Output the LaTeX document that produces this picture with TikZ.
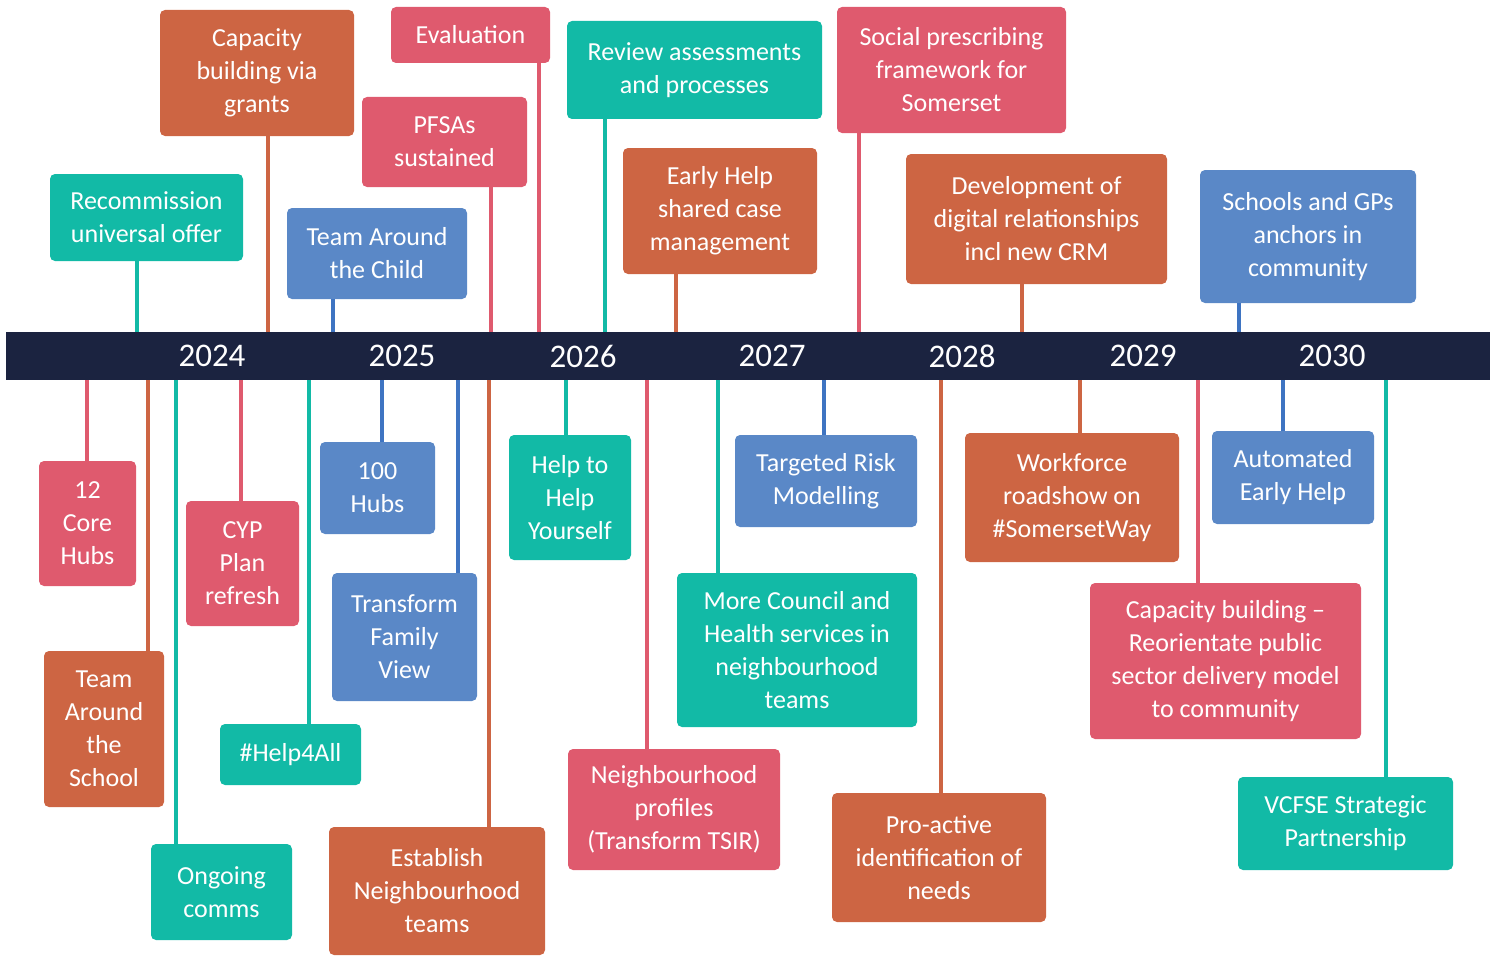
\documentclass[tikz,border=0pt]{standalone}
\usepackage{fontspec}
\setmainfont{Carlito}
\definecolor{cteal}{HTML}{12BAA6}
\definecolor{corange}{HTML}{CD6543}
\definecolor{cpink}{HTML}{DF5A6E}
\definecolor{cblue}{HTML}{5A88C7}
\definecolor{cblueline}{HTML}{3E74C2}
\definecolor{cbar}{HTML}{1B2340}
\tikzset{
  box/.style={rounded corners=5pt, inner sep=0pt, align=center, text=white,
    font=\fontsize{26}{33}\selectfont},
  tealbox/.style={box, fill=cteal},
  orangebox/.style={box, fill=corange},
  pinkbox/.style={box, fill=cpink},
  bluebox/.style={box, fill=cblue},
  wire/.style={line width=4pt},
  tealwire/.style={wire, draw=cteal},
  orangewire/.style={wire, draw=corange},
  pinkwire/.style={wire, draw=cpink},
  bluewire/.style={wire, draw=cblueline},
  year/.style={text=white, inner sep=0pt, font=\fontsize{33}{36}\selectfont},
}
\newcommand{\bx}[6]{\node[#1, minimum width=#4, minimum height=#5] (#2) at (#3) {#6};}
\begin{document}
\begin{tikzpicture}[x=1pt,y=-1pt]
\useasboundingbox (0,0) rectangle (1498,955);
% boxes above
\bx{tealbox}{rec}{146.5,217.5}{193}{87}{Recommission\\universal offer}
\bx{orangebox}{capg}{257,73}{194}{126}{Capacity\\building via\\grants}
\bx{pinkbox}{eval}{470.5,35}{159}{56}{Evaluation}
\bx{pinkbox}{pfsa}{444.5,142}{165}{90}{PFSAs\\sustained}
\bx{bluebox}{tac}{377,253.5}{180}{91}{Team Around\\the Child}
\bx{tealbox}{rev}{694.5,70}{255}{98}{Review assessments\\and processes}
\bx{orangebox}{ehs}{720,211}{194}{126}{Early Help\\shared case\\management}
\bx{pinkbox}{soc}{951.5,70}{229}{126}{Social prescribing\\framework for\\Somerset}
\bx{orangebox}{dev}{1036.5,219}{261}{130}{Development of\\digital relationships\\incl new CRM}
\bx{bluebox}{sch}{1308,236.5}{216}{133}{Schools and GPs\\anchors in\\community}
% boxes below
\bx{pinkbox}{core}{87.5,523.5}{97}{125}{12\\Core\\Hubs}
\bx{orangebox}{tas}{104,729}{120}{156}{Team\\Around\\the\\School}
\bx{pinkbox}{cyp}{242.5,563.5}{113}{125}{CYP\\Plan\\refresh}
\bx{bluebox}{hub}{377.5,488}{115}{92}{100\\Hubs}
\bx{bluebox}{tfv}{404.5,637}{145}{128}{Transform\\Family\\View}
\bx{tealbox}{hfa}{290.5,754.5}{141}{61}{\#Help4All}
\bx{tealbox}{ong}{221.5,892}{141}{96}{Ongoing\\comms}
\bx{orangebox}{est}{437,891}{216}{128}{Establish\\Neighbourhood\\teams}
\bx{tealbox}{hth}{570,497.5}{122}{125}{Help to\\Help\\Yourself}
\bx{pinkbox}{nbp}{674,809.5}{212}{121}{Neighbourhood\\profiles\\(Transform TSIR)}
\bx{tealbox}{mch}{797,650}{240}{154}{More Council and\\Health services in\\neighbourhood\\teams}
\bx{bluebox}{trm}{826,481}{182}{92}{Targeted Risk\\Modelling}
\bx{orangebox}{pro}{939,857.5}{214}{129}{Pro-active\\identification of\\needs}
\bx{orangebox}{wrk}{1072,497.5}{214}{129}{Workforce\\roadshow on\\\#SomersetWay}
\bx{pinkbox}{cbr}{1225.5,661}{271}{156}{Capacity building –\\Reorientate public\\sector delivery model\\to community}
\bx{bluebox}{aeh}{1293,477.5}{162}{93}{Automated\\Early Help}
\bx{tealbox}{vcf}{1345.5,823.5}{215}{93}{VCFSE Strategic\\Partnership}
% bar
\node[fill=cbar, inner sep=0pt, minimum width=1484, minimum height=48] (bar) at (748,356) {};
% connector anchors on the bar
\coordinate (a1) at (137,332);
\coordinate (a2) at (268,332);
\coordinate (a3) at (539,332);
\coordinate (a4) at (491,332);
\coordinate (a5) at (333,332);
\coordinate (a6) at (605,332);
\coordinate (a7) at (676,332);
\coordinate (a8) at (859,332);
\coordinate (a9) at (1022,332);
\coordinate (a10) at (1239,332);
\coordinate (b1) at (87,380);
\coordinate (b2) at (148,380);
\coordinate (b3) at (241,380);
\coordinate (b4) at (382,380);
\coordinate (b5) at (458,380);
\coordinate (b6) at (309,380);
\coordinate (b7) at (176,380);
\coordinate (b8) at (489,380);
\coordinate (b9) at (566,380);
\coordinate (b10) at (647,380);
\coordinate (b11) at (718,380);
\coordinate (b12) at (824,380);
\coordinate (b13) at (941,380);
\coordinate (b14) at (1080,380);
\coordinate (b15) at (1198,380);
\coordinate (b16) at (1283,380);
\coordinate (b17) at (1386,380);
% connectors
\draw[tealwire] (a1) -- (a1 |- rec.south);
\draw[orangewire] (a2) -- (a2 |- capg.south);
\draw[pinkwire] (a3) -- (a3 |- eval.south);
\draw[pinkwire] (a4) -- (a4 |- pfsa.south);
\draw[bluewire] (a5) -- (a5 |- tac.south);
\draw[tealwire] (a6) -- (a6 |- rev.south);
\draw[orangewire] (a7) -- (a7 |- ehs.south);
\draw[pinkwire] (a8) -- (a8 |- soc.south);
\draw[orangewire] (a9) -- (a9 |- dev.south);
\draw[bluewire] (a10) -- (a10 |- sch.south);
\draw[pinkwire] (b1) -- (b1 |- core.north);
\draw[orangewire] (b2) -- (b2 |- tas.north);
\draw[pinkwire] (b3) -- (b3 |- cyp.north);
\draw[bluewire] (b4) -- (b4 |- hub.north);
\draw[bluewire] (b5) -- (b5 |- tfv.north);
\draw[tealwire] (b6) -- (b6 |- hfa.north);
\draw[tealwire] (b7) -- (b7 |- ong.north);
\draw[orangewire] (b8) -- (b8 |- est.north);
\draw[tealwire] (b9) -- (b9 |- hth.north);
\draw[pinkwire] (b10) -- (b10 |- nbp.north);
\draw[tealwire] (b11) -- (b11 |- mch.north);
\draw[bluewire] (b12) -- (b12 |- trm.north);
\draw[orangewire] (b13) -- (b13 |- pro.north);
\draw[orangewire] (b14) -- (b14 |- wrk.north);
\draw[pinkwire] (b15) -- (b15 |- cbr.north);
\draw[bluewire] (b16) -- (b16 |- aeh.north);
\draw[tealwire] (b17) -- (b17 |- vcf.north);
% years
\node[year] (y2024) at (212,356) {2024};
\node[year] (y2025) at (402,356) {2025};
\node[year] (y2026) at (583,356) {2026};
\node[year] (y2027) at (772,356) {2027};
\node[year] (y2028) at (962,356) {2028};
\node[year] (y2029) at (1143,356) {2029};
\node[year] (y2030) at (1332,356) {2030};
\end{tikzpicture}
\end{document}
